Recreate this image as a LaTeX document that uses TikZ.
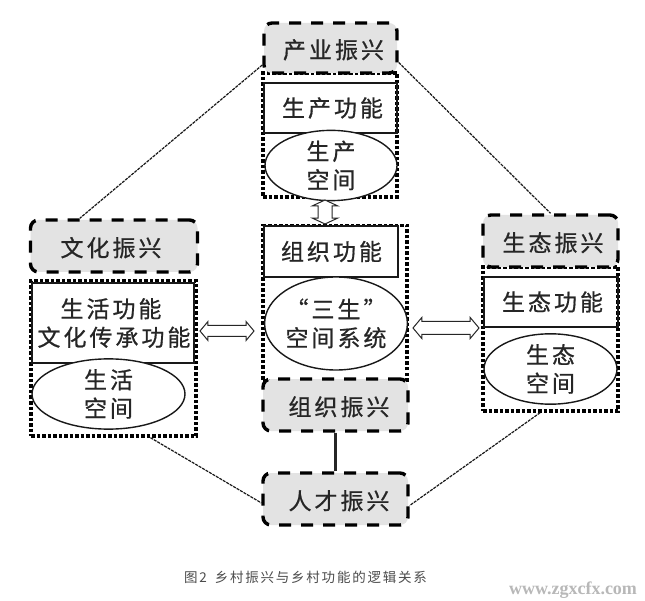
\documentclass[tikz,border=0pt]{standalone}
\usepackage{fontspec}
\setmainfont[FakeBold=0.7]{Noto Sans CJK SC}
\newfontfamily\capfont{Noto Sans CJK SC}
\newfontfamily\wmfont{Liberation Serif}
\usetikzlibrary{shapes.geometric}
\usetikzlibrary{shapes.arrows}
\begin{document}
\begin{tikzpicture}[x=1pt,y=-1pt]
    \tikzstyle{lbl} = [font=\fontsize{23}{28.5}\selectfont\addfontfeature{LetterSpace=13},text=black!85,align=center,inner sep=0pt]
    \tikzstyle{zx} = [lbl, text height=21pt, text depth=0pt, fill=black!11, rounded corners=8pt, preaction={draw=black!50, line width=.8pt}, draw=black, line width=3.4pt, dash pattern=on 12pt off 10pt]
    \tikzstyle{outer} = [draw=black, line width=3.4pt, dash pattern=on 3.5pt off 2pt, inner sep=0pt]
    \tikzstyle{func} = [lbl, draw=black!90, line width=2pt]
    \tikzstyle{space} = [lbl, draw=black!90, line width=1.4pt, ellipse, fill=white]
    \tikzstyle{da} = [double arrow, draw=black!85, line width=1pt, fill=white, inner xsep=0pt, inner ysep=5pt, double arrow head extend=4pt, double arrow tip angle=100]
    \tikzstyle{e} = [draw=black!90, line width=1.2pt, dash pattern=on 3pt off 1pt]
    \useasboundingbox (0,0) rectangle (645,601);
    \fill[white] (0,0) rectangle (645,601);

    \node[outer, minimum width=134pt, minimum height=124pt] (CYbox) at (330,135) {};
    \node[func, minimum width=133pt, minimum height=50pt] (CYfunc) at (330.5,108) {\hspace*{4pt}生产功能};
    \node[space, minimum width=132pt, minimum height=59pt] (CYspace) at (331,165.5) {生产\\空间};
    \node[zx, minimum width=133pt, minimum height=50pt] (CY) at (330.5,48) {\hspace*{6pt}产业振兴};

    \node[outer, minimum width=165pt, minimum height=155pt] (WHbox) at (113.5,358.5) {};
    \node[func, minimum width=162pt, minimum height=80pt] (WHfunc) at (113,323) {生活功能\hspace*{4pt}\\\hspace*{2pt}文化传承功能};
    \node[space, minimum width=153pt, minimum height=62pt] (WHspace) at (108.5,394) {生活\\空间};
    \node[zx, minimum width=167pt, minimum height=52pt] (WH) at (114,246) {文化振兴\hspace*{6pt}};

    \node[outer, minimum width=135pt, minimum height=144pt] (STbox) at (550.5,339) {};
    \node[func, minimum width=134pt, minimum height=50pt] (STfunc) at (550.5,302) {\hspace*{4pt}生态功能};
    \node[space, minimum width=133pt, minimum height=62pt] (STspace) at (550.5,369) {生态\\空间};
    \node[zx, minimum width=135pt, minimum height=52pt] (ST) at (550.5,241) {\hspace*{5pt}生态振兴};

    \node[outer, minimum width=144pt, minimum height=155pt] (ZZbox) at (335,303) {};
    \node[func, minimum width=134pt, minimum height=51pt] (ZZfunc) at (330.5,251.5) {\hspace*{2pt}组织功能};
    \node[space, minimum width=141pt, minimum height=93pt] (ZZspace) at (336,323.5) {“三生”\\空间系统};
    \node[zx, minimum width=145pt, minimum height=52pt] (ZZ) at (335.5,405) {\hspace*{7pt}组织振兴};
    \node[zx, minimum width=145pt, minimum height=52pt] (RC) at (335.5,499) {\hspace*{7pt}人才振兴};

    \node[da, minimum width=18pt, minimum height=54pt] (arrL) at (227,331) {};
    \node[da, inner ysep=6pt, minimum width=20pt, minimum height=66pt] (arrR) at (446,328) {};
    \node[da, rotate=90, inner ysep=6.5pt, minimum width=24pt, minimum height=24pt, double arrow head extend=5.5pt, double arrow tip angle=130] (arrT) at (325,212) {};

    \draw [e] (CY.194) -- (WH.141);
    \draw [e] (CY.-12) -- (ST.north);
    \draw [e] (WHbox.-65) -- (RC.183);
    \draw [e] (STbox.262) -- (RC.-5);
    \draw [draw=black!85, line width=2.6pt] (ZZ) -- (RC);

    \node[font=\capfont\fontsize{13.5}{15}\selectfont\addfontfeature{LetterSpace=13},text=black!70,inner sep=0pt] (cap) at (305.5,577) {图2\hspace{8pt}乡村振兴与乡村功能的逻辑关系};
    \node[font=\wmfont\bfseries\fontsize{18}{20}\selectfont,text=black!28,inner sep=0pt] (wm) at (573,590) {www.zgxcfx.com};
\end{tikzpicture}
\end{document}
